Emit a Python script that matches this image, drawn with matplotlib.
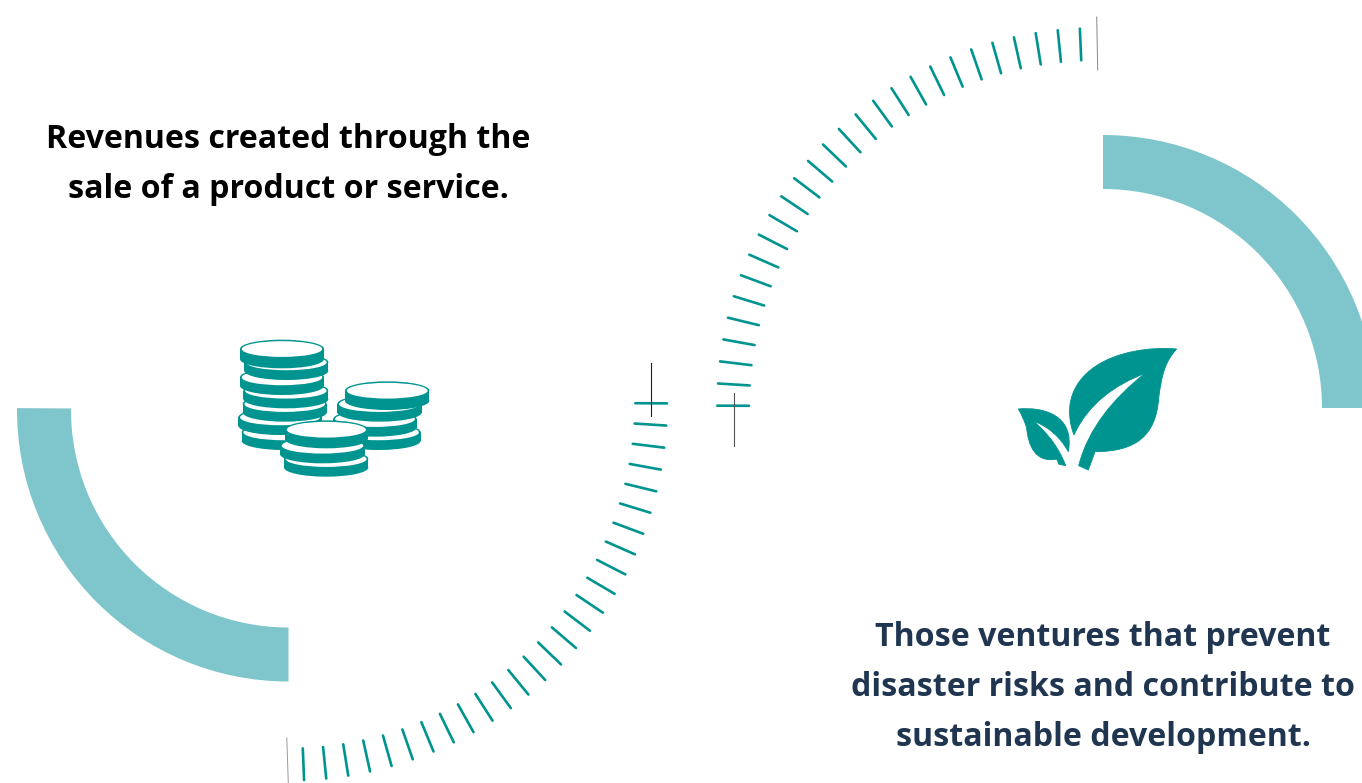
import numpy as np
import matplotlib
matplotlib.use("Agg")
import matplotlib.pyplot as plt
from matplotlib.patches import Wedge, Ellipse, Rectangle, PathPatch
from matplotlib.path import Path

TEAL = "#009490"
LIGHT = "#7EC6CC"
NAVY = "#1F3550"

left_text = ["Revenues created through the", "sale of a product or service."]
right_text = ["Those ventures that prevent", "disaster risks and contribute to", "sustainable development."]

# tick positions along each quarter ring, degrees
tick_step = 3.36
n_ticks = 27

# (left, right, bottom, height) of every coin in the zoomed crop, back to front
coins = [
    (65, 315, 360, 81), (55, 305, 315, 81), (68, 320, 275, 81), (70, 325, 235, 81),
    (60, 312, 195, 81), (73, 325, 150, 81), (60, 312, 115, 86),
    (350, 602, 360, 81), (340, 590, 320, 81), (352, 605, 275, 81), (375, 628, 240, 86),
    (192, 445, 440, 81), (180, 435, 400, 81), (195, 443, 355, 84),
]

fig = plt.figure(figsize=(13.62, 7.83), dpi=100)
ax = fig.add_axes([0, 0, 1, 1])
ax.set_xlim(0, 1362)
ax.set_ylim(783, 0)
ax.axis("off")

# thick rings
ax.add_patch(Wedge((288.5, 410), 271.5, 90, 180.4, width=54, fc=LIGHT, ec="none"))
ax.add_patch(Wedge((1103, 408), 273, 270, 360, width=54, fc=LIGHT, ec="none"))


def tick_ring(cx, cy, start):
    for i in range(n_ticks):
        a = np.radians(start + i * tick_step)
        ax.plot([cx + 347 * np.cos(a), cx + 378.7 * np.cos(a)],
                [cy + 347 * np.sin(a), cy + 378.7 * np.sin(a)],
                color=TEAL, lw=1.9, solid_capstyle="round")


tick_ring(288.3, 401.7, 0.25)
tick_ring(1096, 407, 180.2)

# thin marker lines
ax.plot([650.5, 650.5], [363, 416], color="#222222", lw=0.8)
ax.plot([734, 734], [393, 446], color="#555555", lw=0.8)
ax.plot([286.8, 288.3], [738, 783], color="#999999", lw=0.7)
ax.plot([1096.7, 1097.7], [17, 70], color="#888888", lw=0.7)


# coins
def zx(v):
    return 220 + v / 3


def zy(v):
    return 330 + v / 3


face_h = 55 / 3
for z, (l, r, b, h) in enumerate(coins):
    x0, x1, y1 = zx(l), zx(r), zy(b)
    coin_h = h / 3
    y0 = y1 - coin_h
    cx = (x0 + x1) / 2
    w = x1 - x0
    ax.add_patch(Ellipse((cx, y1 - face_h / 2), w, face_h, fc=TEAL, ec="none", zorder=3 + z))
    ax.add_patch(Rectangle((x0, y0 + face_h / 2), w, coin_h - face_h, fc=TEAL, ec="none", zorder=3 + z))
    ax.add_patch(Ellipse((cx, y0 + face_h / 2), w, face_h, fc=TEAL, ec="none", zorder=3 + z))
    ax.add_patch(Ellipse((cx, y0 + face_h / 2 + 0.2), w - 3.5, face_h - 2.6, fc="white", ec="none", zorder=3 + z))


# leaf, outlines in zoomed crop pixels
def leaf(verts, codes):
    pts = [(1000 + x / 3, 335 + y / 3) for x, y in verts]
    ax.add_patch(PathPatch(Path(pts, codes), fc=TEAL, ec=TEAL, lw=0.6, zorder=3))


M, C, L, Z = Path.MOVETO, Path.CURVE4, Path.LINETO, Path.CLOSEPOLY
leaf([(222, 300),
      (195, 230), (205, 150), (285, 95),
      (350, 50), (450, 35), (530, 42),
      (495, 80), (485, 120), (476, 190),
      (468, 300), (410, 350), (285, 350),
      (265, 405), (236, 392),
      (265, 280), (340, 190), (435, 115),
      (345, 150), (265, 205), (222, 300),
      (222, 300)],
     [M, C, C, C, C, C, C, C, C, C, C, C, C, L, L, C, C, C, C, C, C, Z])
leaf([(55, 222),
      (130, 215), (225, 240), (205, 350),
      (180, 305), (145, 275), (100, 258),
      (145, 295), (180, 345), (197, 392),
      (177, 388), (170, 372),
      (105, 385), (85, 330), (80, 280),
      (75, 260), (65, 240), (55, 222),
      (55, 222)],
     [M, C, C, C, C, C, C, C, C, C, L, L, C, C, C, C, C, C, Z])

# captions
for s, y in zip(left_text, [139, 190]):
    ax.text(288, y, s, ha="center", va="center", family="Open Sans", weight="bold",
            fontsize=23.1, color="black")
for s, y in zip(right_text, [637, 687, 737]):
    ax.text(1103, y, s, ha="center", va="center", family="Open Sans", weight="bold",
            fontsize=23.1, color=NAVY)

fig.savefig("out.png", dpi=100)
